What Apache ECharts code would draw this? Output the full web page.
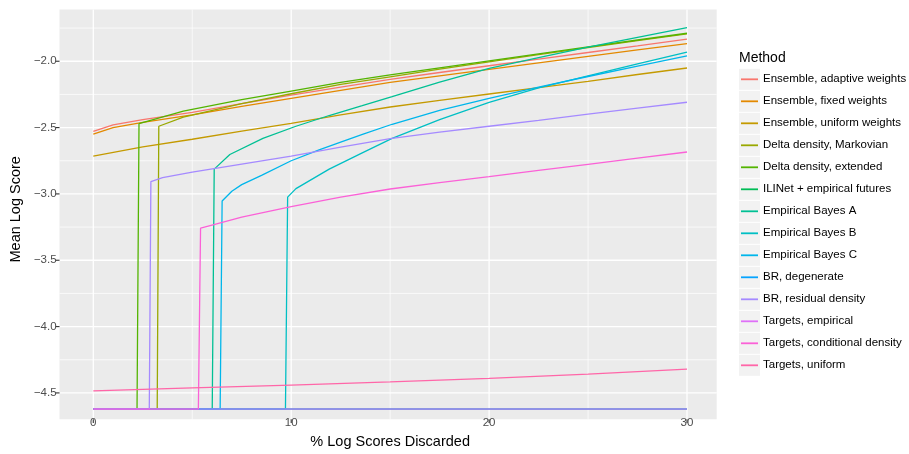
<!DOCTYPE html>
<html>
<head>
<meta charset="utf-8">
<script src="https://cdn.jsdelivr.net/npm/echarts@6/dist/echarts.min.js"></script>
<style>
  html, body { margin: 0; padding: 0; background: #fff; }
  #chart { width: 909px; height: 454px; }
</style>
</head>
<body>
<div id="chart"></div>
<script>
// Method names, in legend / drawing order
const methods = [
  'Ensemble, adaptive weights',
  'Ensemble, fixed weights',
  'Ensemble, uniform weights',
  'Delta density, Markovian',
  'Delta density, extended',
  'ILINet + empirical futures',
  'Empirical Bayes A',
  'Empirical Bayes B',
  'Empirical Bayes C',
  'BR, degenerate',
  'BR, residual density',
  'Targets, empirical',
  'Targets, conditional density',
  'Targets, uniform'
];

// Mean log score vs. % of log scores discarded (-Infinity = some scores still -Inf)
const ensAdaptiveX = [0, 1, 2.5, 5, 7.5, 10, 12.5, 15, 17.5, 20, 22.5, 25, 27.5, 30];
const ensAdaptiveY = [-2.529, -2.48, -2.44, -2.385, -2.32, -2.255, -2.195, -2.137, -2.085, -2.034, -1.984, -1.934, -1.884, -1.833];

const ensFixedX = [0, 1, 2.5, 5, 7.5, 10, 12.5, 15, 17.5, 20, 22.5, 25, 27.5, 30];
const ensFixedY = [-2.549, -2.50, -2.46, -2.404, -2.34, -2.28, -2.22, -2.160, -2.11, -2.061, -2.012, -1.963, -1.915, -1.868];

const ensUniformX = [0, 2.5, 5, 7.5, 10, 12.5, 15, 17.5, 20, 22.5, 25, 27.5, 30];
const ensUniformY = [-2.715, -2.645, -2.588, -2.527, -2.468, -2.405, -2.345, -2.295, -2.247, -2.199, -2.151, -2.10, -2.051];

const deltaMarkovX = [0, 3.23, 3.31, 4.55, 7.5, 10, 12.5, 15, 17.5, 20, 22.5, 25, 27.5, 30];
const deltaMarkovY = [-Infinity, -Infinity, -2.490, -2.421, -2.32, -2.245, -2.175, -2.118, -2.06, -2.004, -1.95, -1.897, -1.844, -1.793];

const deltaExtX = [0, 2.21, 2.31, 4.55, 7.5, 10, 12.5, 15, 17.5, 20, 22.5, 25, 27.5, 30];
const deltaExtY = [-Infinity, -Infinity, -2.471, -2.376, -2.29, -2.225, -2.16, -2.103, -2.05, -1.997, -1.944, -1.892, -1.84, -1.789];

const ilinetX = [0, 30];
const ilinetY = [-Infinity, -Infinity];

const ebAX = [0, 6.01, 6.11, 6.9, 8.57, 10.24, 11.92, 13.59, 15.1, 17.5, 20, 22.5, 25, 27.5, 30];
const ebAY = [-Infinity, -Infinity, -2.813, -2.703, -2.581, -2.490, -2.409, -2.335, -2.267, -2.158, -2.054, -1.972, -1.894, -1.82, -1.747];

const ebBX = [0, 9.71, 9.82, 10.24, 11.92, 13.59, 15.1, 17.5, 20, 22.5, 25, 27.5, 30];
const ebBY = [-Infinity, -Infinity, -3.024, -2.960, -2.813, -2.691, -2.581, -2.44, -2.31, -2.20, -2.11, -2.02, -1.931];

const ebCX = [0, 6.41, 6.51, 7, 7.5, 8.5, 10, 11.41, 12.5, 13.6, 15.1, 17.5, 20, 22.5, 25, 27.5, 30];
const ebCY = [-Infinity, -Infinity, -3.054, -2.98, -2.93, -2.86, -2.75, -2.668, -2.61, -2.552, -2.475, -2.37, -2.28, -2.195, -2.115, -2.037, -1.96];

const brDegX = [0, 30];
const brDegY = [-Infinity, -Infinity];

const brResX = [0, 2.83, 2.91, 3.5, 5, 7.5, 10, 12.5, 15, 17.5, 20, 22.5, 25, 27.5, 30];
const brResY = [-Infinity, -Infinity, -2.907, -2.878, -2.836, -2.775, -2.715, -2.648, -2.583, -2.535, -2.49, -2.445, -2.399, -2.354, -2.309];

const tgtEmpX = [0, 30];
const tgtEmpY = [-Infinity, -Infinity];

const tgtCondX = [0, 5.31, 5.42, 6, 7.5, 10, 12.5, 15, 17.5, 20, 22.5, 25, 27.5, 30];
const tgtCondY = [-Infinity, -Infinity, -3.258, -3.235, -3.175, -3.095, -3.025, -2.963, -2.915, -2.870, -2.823, -2.777, -2.73, -2.684];

const tgtUnifX = [0, 5, 10, 15, 20, 25, 30];
const tgtUnifY = [-4.485, -4.462, -4.441, -4.417, -4.390, -4.358, -4.321];

// Tick positions
const xMajorTicks = [0, 10, 20, 30];
const xMinorTicks = [5, 15, 25];
const yMajorTicks = [-4.5, -4.0, -3.5, -3.0, -2.5, -2.0];
const yMinorTicks = [-4.25, -3.75, -3.25, -2.75, -2.25, -1.75];

const seriesX = [ensAdaptiveX, ensFixedX, ensUniformX, deltaMarkovX, deltaExtX, ilinetX,
  ebAX, ebBX, ebCX, brDegX, brResX, tgtEmpX, tgtCondX, tgtUnifX];
const seriesY = [ensAdaptiveY, ensFixedY, ensUniformY, deltaMarkovY, deltaExtY, ilinetY,
  ebAY, ebBY, ebCY, brDegY, brResY, tgtEmpY, tgtCondY, tgtUnifY];

const palette = ['#F8766D', '#E38900', '#C49A00', '#99A800', '#53B400', '#00BC56', '#00C094',
  '#00BFC4', '#00B6EB', '#06A4FF', '#A58AFF', '#DF70F8', '#FB61D7', '#FF66A8'];

// Axis ranges (5% padding around the finite data); -Inf is drawn on the panel floor
const X_MIN = -1.5, X_MAX = 31.5;
const Y_MIN = -4.622, Y_MAX = -1.610;

// Plot panel box in pixels
const PANEL = { left: 59.5, top: 9.5, right: 716.7, bottom: 419.3 };

const FONT = '"Liberation Sans", Arial, Helvetica, sans-serif';
const minus = v => String(v).replace('-', '\u2212');

const series = methods.map((name, i) => ({
  type: 'line',
  name: name,
  z: 8,
  symbol: 'none',
  clip: true,
  color: palette[i],
  lineStyle: { width: 1.3, color: palette[i] },
  emphasis: { disabled: true },
  data: seriesX[i].map((x, k) => [x, Number.isFinite(seriesY[i][k]) ? seriesY[i][k] : Y_MIN])
}));

// Panel background and legend key backgrounds
const KEY_TOP = 68.3, KEY_STEP = 22;
const graphics = [{
  id: 'panel-bg',
  type: 'rect',
  left: PANEL.left,
  top: PANEL.top,
  shape: { width: PANEL.right - PANEL.left, height: PANEL.bottom - PANEL.top },
  style: { fill: '#EBEBEB' },
  silent: true,
  z: -10
}];
methods.forEach((m, i) => graphics.push({
  id: 'key-bg-' + i,
  type: 'rect',
  left: 739,
  top: KEY_TOP + i * KEY_STEP + 0.5,
  shape: { width: 21, height: 21 },
  style: { fill: '#F2F2F2' },
  silent: true,
  z: -10
}));

const chart = echarts.init(document.getElementById('chart'), null, { renderer: 'canvas' });
chart.setOption({
  animation: false,
  tooltip: { show: false },
  title: {
    text: 'Method',
    left: 739,
    top: 51,
    padding: 0,
    textStyle: { fontFamily: FONT, fontSize: 14, fontWeight: 'normal', color: '#000' }
  },
  graphic: { elements: graphics },
  legend: {
    z: 10,
    data: methods,
    orient: 'vertical',
    left: 741,
    top: KEY_TOP,
    icon: 'rect',
    itemWidth: 17,
    itemHeight: 1.8,
    itemGap: 0,
    padding: 0,
    selectedMode: false,
    textStyle: { fontFamily: FONT, fontSize: 11.5, lineHeight: 22, color: '#000' }
  },
  grid: {
    left: PANEL.left,
    right: 909 - PANEL.right,
    top: PANEL.top,
    bottom: 454 - PANEL.bottom,
    show: false
  },
  xAxis: {
    type: 'value',
    min: X_MIN,
    max: X_MAX,
    name: '% Log Scores Discarded',
    nameLocation: 'middle',
    nameGap: 20,
    nameTextStyle: { fontFamily: FONT, fontSize: 14.5, color: '#000' },
    axisLine: { show: false, onZero: false },
    splitLine: { show: false },
    axisTick: { show: false, customValues: xMajorTicks },
    axisLabel: {
      customValues: xMajorTicks,
      margin: 8,
      fontFamily: FONT,
      fontSize: 11.5,
      color: '#4D4D4D'
    }
  },
  yAxis: {
    type: 'value',
    min: Y_MIN,
    max: Y_MAX,
    name: 'Mean Log Score',
    nameLocation: 'middle',
    nameGap: 37,
    nameRotate: 90,
    nameTextStyle: { fontFamily: FONT, fontSize: 14.5, color: '#000' },
    axisLine: { show: false, onZero: false },
    splitLine: { show: false },
    axisTick: { show: false, customValues: yMajorTicks },
    axisLabel: {
      customValues: yMajorTicks,
      margin: 7,
      fontFamily: FONT,
      fontSize: 11.5,
      color: '#4D4D4D',
      formatter: v => minus(v.toFixed(1))
    }
  },
  series: series
});

// Grid lines and tick marks, placed through the chart's own axis scales
const toPx = (x, y) => chart.convertToPixel({ gridIndex: 0 }, [x, y]);
const guides = [];
function vLine(v, width, id) {
  const px = toPx(v, Y_MIN)[0];
  guides.push({ id: id, type: 'line', silent: true, z: -5,
    shape: { x1: px, y1: PANEL.top, x2: px, y2: PANEL.bottom },
    style: { stroke: '#FFFFFF', lineWidth: width } });
}
function hLine(v, width, id) {
  const py = toPx(X_MIN, v)[1];
  guides.push({ id: id, type: 'line', silent: true, z: -5,
    shape: { x1: PANEL.left, y1: py, x2: PANEL.right, y2: py },
    style: { stroke: '#FFFFFF', lineWidth: width } });
}
xMinorTicks.forEach((v, i) => vLine(v, 0.7, 'gx-minor-' + i));
yMinorTicks.forEach((v, i) => hLine(v, 0.7, 'gy-minor-' + i));
xMajorTicks.forEach((v, i) => vLine(v, 1.3, 'gx-major-' + i));
yMajorTicks.forEach((v, i) => hLine(v, 1.3, 'gy-major-' + i));
xMajorTicks.forEach((v, i) => {
  const px = toPx(v, Y_MIN)[0];
  guides.push({ id: 'tx-' + i, type: 'line', silent: true, z: 5,
    shape: { x1: px, y1: PANEL.bottom, x2: px, y2: PANEL.bottom + 3.7 },
    style: { stroke: '#333333', lineWidth: 1.1 } });
});
yMajorTicks.forEach((v, i) => {
  const py = toPx(X_MIN, v)[1];
  guides.push({ id: 'ty-' + i, type: 'line', silent: true, z: 5,
    shape: { x1: PANEL.left - 3.7, y1: py, x2: PANEL.left, y2: py },
    style: { stroke: '#333333', lineWidth: 1.1 } });
});
chart.setOption({ graphic: { elements: graphics.concat(guides) } });
</script>
</body>
</html>
